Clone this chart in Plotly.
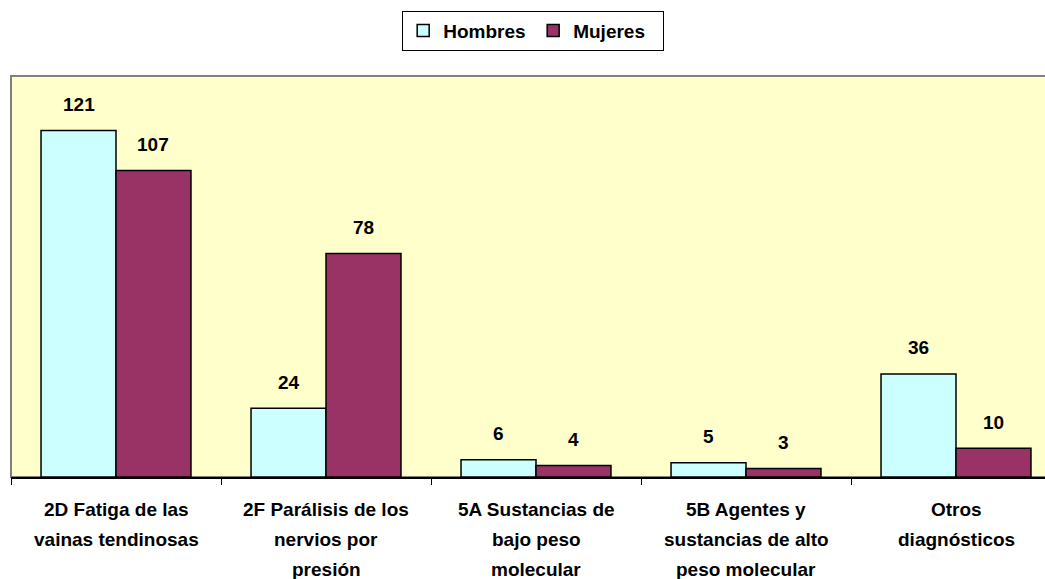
import plotly.graph_objects as go

# ---- data ----
categories = [
    "2D Fatiga de las\nvainas tendinosas",
    "2F Parálisis de los\nnervios por\npresión",
    "5A Sustancias de\nbajo peso\nmolecular",
    "5B Agentes y\nsustancias de alto\npeso molecular",
    "Otros\ndiagnósticos",
]
series_names = ["Hombres", "Mujeres"]
hombres = [121, 24, 6, 5, 36]
mujeres = [107, 78, 4, 3, 10]

# ---- style ----
FONT = "Liberation Sans, Arial, sans-serif"
colors = ["#CCFFFF", "#993366"]
W, H = 1045, 579
ml, mr, mt, mb = 11, 0, 76, 102
cat_px = 210.0
bargap = 0.286

xpos = list(range(len(categories)))
plot_w = W - ml - mr
x_range = [-0.5, -0.5 + plot_w / cat_px]

fig = go.Figure()
for name, vals, col in zip(series_names, [hombres, mujeres], colors):
    fig.add_trace(go.Bar(
        x=xpos, y=vals, name=name,
        marker=dict(color=col, line=dict(color="#000000", width=1.5)),
        hoverinfo="skip",
    ))

annotations = []
half = (1 - bargap) / 4
for k, vals in enumerate([hombres, mujeres]):
    off = -half if k == 0 else half
    for i, v in enumerate(vals):
        annotations.append(dict(
            x=xpos[i] + off, y=v, xref="x", yref="y",
            text=f"<b>{v}</b>", showarrow=False,
            yanchor="middle", yshift=26,
            font=dict(family=FONT, size=19, color="#000000"),
        ))

for i, cat in enumerate(categories):
    for j, line in enumerate(cat.split("\n")):
        annotations.append(dict(
            x=xpos[i], y=0, xref="x", yref="paper",
            text=f"<b>{line}</b>", showarrow=False,
            yanchor="middle", yshift=-32 - 30 * j,
            font=dict(family=FONT, size=19, color="#000000"),
        ))

fig.update_layout(
    width=W, height=H,
    margin=dict(l=ml, r=mr, t=mt, b=mb, pad=0),
    paper_bgcolor="#FFFFFF",
    plot_bgcolor="#FFFFCC",
    barmode="group", bargap=bargap, bargroupgap=0,
    showlegend=True,
    legend=dict(
        orientation="h", x=0.505, xanchor="center", y=1.163, yanchor="top",
        bordercolor="#000000", borderwidth=1, bgcolor="#FFFFFF",
        font=dict(family=FONT, size=19, color="#000000", weight="bold"),
        itemwidth=30, traceorder="normal",
        entrywidth=85, entrywidthmode="pixels",
    ),
    xaxis=dict(
        range=x_range, showgrid=False, zeroline=False,
        showline=True, linecolor="#000000", linewidth=1.5,
        ticks="outside", ticklen=6, tickcolor="#000000", tickwidth=1,
        tickvals=[p - 0.5 for p in xpos] + [xpos[-1] + 0.5],
        showticklabels=False, fixedrange=True,
    ),
    yaxis=dict(
        range=[0, 140], showgrid=False, zeroline=False,
        showticklabels=False, ticks="", showline=False, fixedrange=True,
    ),
    shapes=[dict(
        type="rect", xref="paper", yref="paper", x0=0, x1=1.05, y0=0, y1=1,
        line=dict(color="#808080", width=2), fillcolor="rgba(0,0,0,0)",
        layer="below",
    )],
    annotations=annotations,
)

fig.write_html(
    "out.html",
    config={"displayModeBar": False},
    post_script="document.body.style.margin='0';document.body.style.padding='0';",
)
